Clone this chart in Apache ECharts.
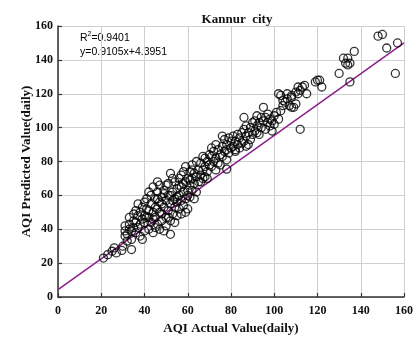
<!DOCTYPE html>
<html>
<head>
<meta charset="utf-8">
<script src="https://cdn.jsdelivr.net/npm/echarts@6/dist/echarts.min.js"></script>
<style>
  html, body { margin: 0; padding: 0; background: #fff; }
  #chart { width: 420px; height: 340px; }
</style>
</head>
<body>
<div id="chart"></div>
<script>
// Daily AQI: actual vs predicted, Kannur city. Pairs are [actual, predicted].
const lowDays = [
  [21, 23], [23, 25], [25, 27], [27, 26], [26, 29], [29.5, 27.5], [30, 30], [34, 28],
  [31, 36], [32, 33], [31, 39], [31, 42], [33, 43], [34, 39], [35, 45], [33, 40],
  [32, 37], [34, 34], [35, 41], [33, 47]
];
const coreDays = [
  [36, 38], [36, 44], [37, 48], [37, 41], [38, 50], [38, 36], [39, 46], [39, 53], [36, 51], [38, 43],
  [40, 39], [39, 34], [37, 55], [40, 48], [35, 49],
  [40, 44], [41, 52], [41, 58], [42, 40], [42, 47], [42, 62], [43, 55], [43, 44], [44, 50], [44, 65],
  [45, 41], [45, 58], [41, 47], [43, 60], [44, 38], [40, 56], [42, 51], [45, 53], [44, 46],
  [45, 47], [46, 62], [46, 52], [46, 43], [47, 56], [47, 66], [47, 40], [48, 49], [48, 59], [48, 45],
  [49, 53], [49, 63], [49, 39], [50, 47], [50, 57], [46, 68], [48, 55], [47, 50], [50, 42], [49, 61], [46, 58],
  [51, 51], [51, 60], [51, 67], [52, 45], [52, 55], [52, 37], [53, 49], [53, 62], [53, 70], [54, 58],
  [54, 44], [54, 53], [55, 64], [55, 48], [50, 66], [52, 73], [53, 57], [51, 47], [55, 56], [54, 68], [52, 60],
  [56, 52], [56, 60], [56, 70], [57, 57], [57, 65], [57, 49], [58, 62], [58, 74], [58, 54], [59, 58],
  [59, 68], [60, 63], [60, 52], [59, 77], [56, 66], [57, 72], [58, 67], [60, 70], [55, 59], [59, 50],
  [61, 66], [61, 74], [61, 59], [62, 70], [62, 63], [62, 78], [63, 67], [63, 73], [64, 62], [64, 71],
  [64, 80], [65, 68], [65, 75], [60, 60], [63, 58], [62, 75], [61, 69]
];
const midDays = [
  [66, 72], [66, 79], [67, 70], [67, 75], [67, 83], [68, 77], [68, 71], [69, 80], [69, 74], [70, 78],
  [70, 84], [66, 68], [68, 82], [69, 70],
  [71, 77], [71, 83], [72, 80], [72, 86], [73, 75], [73, 82], [74, 79], [74, 87], [75, 84], [75, 78],
  [71, 88], [73, 90], [78, 75.5],
  [76, 83], [76, 89], [77, 86], [77, 93], [78, 81], [78, 90], [79, 85], [79, 94], [80, 88], [80, 92],
  [76, 95], [78, 87],
  [81, 89], [81, 95], [82, 87], [82, 92], [83, 90], [83, 96], [84, 88], [84, 94], [85, 91], [85, 97], [82, 86],
  [86, 92], [86, 99], [87, 95], [87, 101], [88, 90], [88, 97], [89, 93], [89, 100], [90, 96], [90, 103],
  [86, 106], [87, 89],
  [91, 98], [91, 104], [92, 101], [92, 107], [93, 96], [93, 103], [94, 100], [94, 106], [95, 104],
  [95, 112], [92, 97],
  [96, 99], [96, 106], [97, 103], [97, 108], [98, 101], [98, 105], [99, 98], [99, 104], [100, 102], [100, 107]
];
const highDays = [
  [102, 105], [102, 120], [103, 119], [104, 116], [104, 113], [101, 109], [103, 110],
  [105, 115], [106, 117], [106, 120], [107, 113], [108, 112], [108, 118], [108, 119], [109, 112],
  [110, 114], [110, 121], [111, 120], [111, 124], [112, 122], [113, 124], [114, 125], [115, 120], [112, 99],
  [119, 127], [120, 128], [121, 128], [122, 124],
  [130, 132], [132, 141], [133, 138], [134, 141], [134, 137], [135, 138], [135, 127], [137, 145],
  [148, 154], [150, 155], [152, 147], [157, 150], [156, 132]
];

// Linear fit reported for the series
const fitSlope = 0.9105;
const fitIntercept = 4.3951;
const fitR2 = '0.9401';

const axisMin = 0;
const axisMax = 160;
const tickStep = 20;

const allDays = [].concat(lowDays, coreDays, midDays, highDays);
const fitLine = [axisMin, axisMax].map(x => [x, fitSlope * x + fitIntercept]);

const serif = '"Liberation Serif", "Times New Roman", serif';
const sans = '"Liberation Sans", Arial, sans-serif';

const axisCommon = {
  type: 'value',
  min: axisMin,
  max: axisMax,
  interval: tickStep,
  nameLocation: 'middle',
  nameMoveOverlap: false,
  nameTextStyle: { fontFamily: serif, fontWeight: 'bold', fontSize: 13, color: '#111' },
  axisLine: { show: true, onZero: false, lineStyle: { color: '#333', width: 1.5 } },
  axisTick: { show: true, inside: true, length: 4, lineStyle: { color: '#333', width: 1.2 } },
  axisLabel: { fontFamily: serif, fontWeight: 'bold', fontSize: 12, color: '#111' },
  splitLine: { show: true, lineStyle: { color: '#cfcfcf', width: 1 } }
};

const chart = echarts.init(document.getElementById('chart'), null, { renderer: 'canvas' });
chart.setOption({
  animation: false,
  backgroundColor: '#fff',
  title: {
    text: 'Kannur  city',
    left: 232,
    textAlign: 'center',
    top: 8,
    textStyle: { fontFamily: serif, fontWeight: 'bold', fontSize: 13, color: '#111' }
  },
  grid: { left: 58, right: 16, top: 26, bottom: 42 },
  xAxis: Object.assign({}, axisCommon, {
    name: 'AQI Actual Value(daily)',
    nameGap: 25,
    axisLabel: Object.assign({}, axisCommon.axisLabel, { margin: 8 })
  }),
  yAxis: Object.assign({}, axisCommon, {
    name: 'AQI Predicted Value(daily)',
    nameGap: 25,
    axisLabel: Object.assign({}, axisCommon.axisLabel, { margin: 5 })
  }),
  graphic: [{
    type: 'text',
    left: 80,
    top: 31,
    style: {
      text: '{t|R}{s|2}{t|=' + fitR2 + '}\n{t|y=' + fitSlope + 'x+' + fitIntercept + '}',
      rich: {
        t: { fontFamily: sans, fontSize: 10.5, color: '#222', lineHeight: 14 },
        s: { fontFamily: sans, fontSize: 7, color: '#222', verticalAlign: 'top', lineHeight: 14, padding: [0, 0, 5, 0] }
      }
    }
  }],
  series: [
    {
      type: 'line',
      data: fitLine,
      showSymbol: false,
      lineStyle: { color: '#8b1f8b', width: 1.5 },
      z: 1
    },
    {
      type: 'scatter',
      data: allDays,
      symbol: 'circle',
      symbolSize: 8,
      itemStyle: { color: 'rgba(255,255,255,0)', borderColor: '#000', borderWidth: 1.3 },
      z: 2
    }
  ]
});
</script>
</body>
</html>
